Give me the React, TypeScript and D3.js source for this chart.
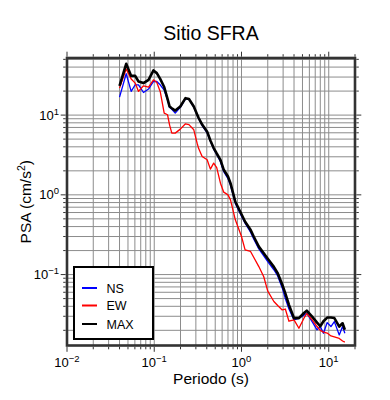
import React from 'react';
import * as d3 from 'd3';

const periods = [0.04, 0.0477, 0.0544, 0.0605, 0.066, 0.0753, 0.086, 0.098, 0.107, 0.117, 0.13, 0.142, 0.15, 0.159, 0.174, 0.199, 0.228, 0.25, 0.284, 0.31, 0.323, 0.354, 0.404, 0.44, 0.48, 0.52, 0.574, 0.626, 0.7, 0.748, 0.85, 1.0, 1.1, 1.27, 1.38, 1.58, 1.8, 2.0, 2.35, 2.6, 2.93, 3.18, 3.5, 4.0, 4.55, 5.2, 5.6, 6.45, 7.35, 8.0, 8.7, 9.6, 10.6, 11.6, 13.2, 14.4, 15.3];

const nsValues = [16.8, 33, 19.8, 24, 24, 19.2, 21.2, 26.4, 26.4, 24, 20.5, 15.5, 12.5, 11.8, 10.6, 12.5, 16, 15.7, 12.6, 10, 9.0, 7.4, 6.0, 4.7, 3.75, 3.2, 2.6, 1.95, 1.6, 1.32, 0.78, 0.54, 0.44, 0.34, 0.28, 0.21, 0.172, 0.145, 0.115, 0.096, 0.068, 0.05, 0.037, 0.027, 0.0284, 0.031, 0.0328, 0.0257, 0.0203, 0.0223, 0.0184, 0.025, 0.0223, 0.0257, 0.0175, 0.0223, 0.0184];

const ewValues = [21.8, 37.8, 28.3, 25.2, 19.8, 23.3, 22.5, 27.7, 25.7, 19.8, 10.6, 10.1, 7.5, 5.94, 5.94, 6.67, 7.78, 7.6, 6.54, 4.45, 3.8, 3.03, 2.75, 2.1, 2.5, 2.2, 1.4, 1.08, 1.0, 0.865, 0.486, 0.3, 0.204, 0.195, 0.165, 0.126, 0.094, 0.062, 0.046, 0.041, 0.036, 0.037, 0.026, 0.027, 0.0212, 0.0284, 0.0325, 0.027, 0.0223, 0.02, 0.019, 0.0185, 0.017, 0.0165, 0.0158, 0.0147, 0.0142];

const maxValues = [23.3, 44, 31, 31, 26.4, 25.2, 27.7, 36.3, 33.6, 28.5, 22.5, 16, 12.8, 12.2, 11.4, 12.8, 16.3, 15.9, 12.8, 10.2, 9.2, 7.6, 6.2, 4.8, 3.86, 3.3, 2.75, 2.06, 1.7, 1.4, 0.82, 0.57, 0.46, 0.364, 0.3, 0.224, 0.185, 0.158, 0.125, 0.104, 0.075, 0.058, 0.0417, 0.0284, 0.0284, 0.033, 0.0353, 0.0297, 0.025, 0.0225, 0.026, 0.0289, 0.029, 0.0285, 0.0223, 0.0245, 0.0203];

const seriesNames = ['NS', 'EW', 'MAX'];
const seriesColors = ['#0000ff', '#ff0000', '#000000'];
const xTickExps = [-2, -1, 0, 1];
const yTickExps = [-1, 0, 1];
const titleText = 'Sitio SFRA';
const xLabelText = 'Periodo (s)';

const FONT = '"Liberation Sans", Arial, Helvetica, sans-serif';

function logGrid(min: number, max: number): { v: number; major: boolean }[] {
  const out: { v: number; major: boolean }[] = [];
  for (let e = -3; e <= 3; e++) {
    for (let k = 1; k <= 9; k++) {
      const v = k * Math.pow(10, e);
      if (v >= min * 0.9999 && v <= max * 1.0001) out.push({ v, major: k === 1 });
    }
  }
  return out;
}

function expStr(e: number) {
  return e < 0 ? '\u2212' + Math.abs(e) : String(e);
}

export default function App() {
  const W = 390, H = 400;
  const left = 67, right = 355, top = 58, bottom = 345.5;
  const x = d3.scaleLog().domain([0.01, 20]).range([left, right]);
  const y = d3.scaleLog().domain([0.0129, 52]).range([bottom, top]);

  const xGrid = logGrid(0.01, 20);
  const yGrid = logGrid(0.0129, 52);

  const line = d3.line<[number, number]>().x(d => x(d[0])).y(d => y(d[1]));
  const series = [nsValues, ewValues, maxValues].map(vals => periods.map((p, i) => [p, vals[i]] as [number, number]));
  const widths = [1.3, 1.3, 2.6];

  const frameColor = '#333';
  const gridColor = '#8c8c8c';

  return (
    <svg width={W} height={H} style={{ position: 'absolute', left: 0, top: 0, background: '#fff' }} fontFamily={FONT}>
      <rect x={0} y={0} width={W} height={H} fill="#fff" />
      {/* grid */}
      {xGrid.map((g, i) => (
        <line key={'xg' + i} x1={x(g.v)} x2={x(g.v)} y1={top} y2={bottom} stroke={gridColor} strokeWidth={1} />
      ))}
      {yGrid.map((g, i) => (
        <line key={'yg' + i} x1={left} x2={right} y1={y(g.v)} y2={y(g.v)} stroke={gridColor} strokeWidth={1} />
      ))}
      {/* curves */}
      {series.map((s, i) => (
        <path key={'s' + i} d={line(s) || ''} fill="none" stroke={seriesColors[i]} strokeWidth={widths[i]} strokeLinejoin="round" />
      ))}
      {/* frame */}
      <rect x={left} y={top} width={right - left} height={bottom - top} fill="none" stroke={frameColor} strokeWidth={2.6} />
      {/* ticks */}
      {xGrid.map((g, i) => {
        const len = g.major ? 5 : 2.5;
        const xx = x(g.v);
        return (
          <g key={'xt' + i}>
            <line x1={xx} x2={xx} y1={bottom + 1.3} y2={bottom + 1.3 + len} stroke={frameColor} strokeWidth={1} />
            <line x1={xx} x2={xx} y1={top - 1.3} y2={top - 1.3 - len} stroke={frameColor} strokeWidth={1} />
          </g>
        );
      })}
      {yGrid.map((g, i) => {
        const len = g.major ? 5 : 2.5;
        const yy = y(g.v);
        return (
          <g key={'yt' + i}>
            <line x1={left - 1.3} x2={left - 1.3 - len} y1={yy} y2={yy} stroke={frameColor} strokeWidth={1} />
            <line x1={right + 1.3} x2={right + 1.3 + len} y1={yy} y2={yy} stroke={frameColor} strokeWidth={1} />
          </g>
        );
      })}
      {/* x tick labels */}
      {xTickExps.map(e => (
        <text key={'xl' + e} x={x(Math.pow(10, e))} y={367} textAnchor="middle" fontSize={13} fill="#000">
          <tspan>10</tspan>
          <tspan dy={-5} fontSize={9.5}>{expStr(e)}</tspan>
        </text>
      ))}
      {/* y tick labels */}
      {yTickExps.map(e => (
        <text key={'yl' + e} x={59} y={y(Math.pow(10, e)) + 4.5} textAnchor="end" fontSize={13} fill="#000">
          <tspan>10</tspan>
          <tspan dy={-5} fontSize={9.5}>{expStr(e)}</tspan>
        </text>
      ))}
      {/* title */}
      <text x={(left + right) / 2} y={40} textAnchor="middle" fontSize={19.5} fill="#000">{titleText}</text>
      {/* x label */}
      <text x={(left + right) / 2} y={384} textAnchor="middle" fontSize={15.5} fill="#000">{xLabelText}</text>
      {/* y label */}
      <text transform={`translate(31,${(top + bottom) / 2}) rotate(-90)`} textAnchor="middle" fontSize={15.5} fill="#000">
        <tspan>PSA (cm/s</tspan>
        <tspan dy={-6} fontSize={10.5}>2</tspan>
        <tspan dy={6}>)</tspan>
      </text>
      {/* legend */}
      <rect x={74} y={267} width={79} height={72} fill="#fff" stroke="#000" strokeWidth={2} />
      {seriesNames.map((n, i) => {
        const ly = [288, 305.5, 324][i];
        return (
          <g key={'lg' + i}>
            <line x1={82} x2={97} y1={ly} y2={ly} stroke={seriesColors[i]} strokeWidth={2} />
            <text x={106.5} y={ly + 4.5} fontSize={12.5} fill="#000">{n}</text>
          </g>
        );
      })}
    </svg>
  );
}
